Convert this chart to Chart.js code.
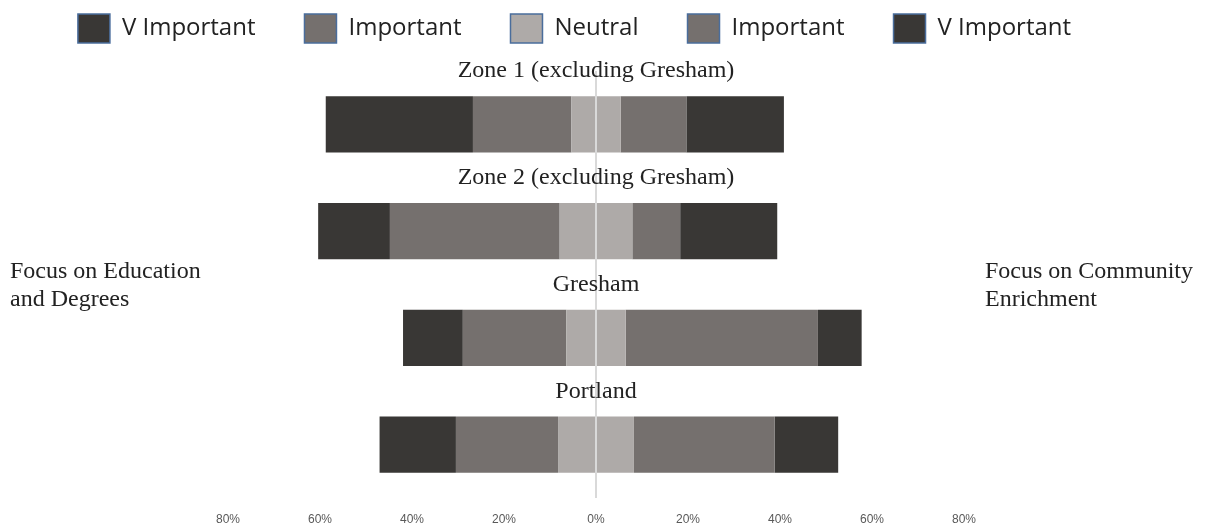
<!DOCTYPE html>
<html>
<head>
<meta charset="utf-8">
<title>Focus: Education vs Community Enrichment</title>
<script src="https://cdn.jsdelivr.net/npm/chart.js@4.4.1/dist/chart.umd.min.js"></script>
<style>
    html, body { margin: 0; padding: 0; background: #fff; }
    #wrap { position: relative; width: 1209px; height: 529px; }
    .side {
        position: absolute;
        top: 256px;
        font-family: 'Liberation Serif', 'Times New Roman', serif;
        font-size: 24px;
        line-height: 28px;
        color: #222;
        white-space: nowrap;
    }
</style>
</head>
<body>
<div id="wrap">
    <canvas id="likertChart"></canvas>
    <div class="side" style="left:10px;">Focus on Education<br>and Degrees</div>
    <div class="side" style="left:985px;">Focus on Community<br>Enrichment</div>
</div>

<script>
const categories = ['Zone 1 (excluding Gresham)', 'Zone 2 (excluding Gresham)', 'Gresham', 'Portland'];

// left side: focus on education and degrees (% of answers)
const eduVeryImportant = [32.0, 15.6, 13.0, 16.6];
const eduImportant = [21.4, 36.9, 22.5, 22.2];
// neutral is split half left / half right of 0
const neutral = [10.7, 15.8, 12.9, 16.5];
// right side: focus on community enrichment
const commImportant = [14.3, 10.4, 41.8, 30.6];
const commVeryImportant = [21.2, 21.1, 9.5, 13.8];

const tickValues = [-80, -60, -40, -20, 0, 20, 40, 60, 80];
const tickLabels = ['80%', '60%', '40%', '20%', '0%', '20%', '40%', '60%', '80%'];

const DARK = '#393735';
const MID = '#75706e';
const LIGHT = '#aeaaa8';

const neg = arr => arr.map(v => -v);
const half = arr => arr.map(v => v / 2);

// legend shows: V Important, Important, Neutral, Important, V Important
const legendOrder = [2, 1, 0, 4, 5];

const categoryTitles = {
    id: 'categoryTitles',
    afterDatasetsDraw(chart) {
        const { ctx, scales: { x, y } } = chart;
        ctx.save();
        ctx.font = '24px "Liberation Serif", "Times New Roman", serif';
        ctx.fillStyle = '#222';
        ctx.textAlign = 'center';
        ctx.textBaseline = 'middle';
        chart.data.labels.forEach((label, i) => {
            ctx.fillText(label, x.getPixelForValue(0), y.getPixelForValue(i - 0.5));
        });
        ctx.restore();
    }
};

// fixed legend height so the plot starts right under it
const legendHeight = {
    id: 'legendHeight',
    beforeInit(chart) {
        const originalFit = chart.legend.fit;
        chart.legend.fit = function fit() {
            originalFit.bind(chart.legend)();
            this.height = 106;
        };
    }
};

const ctx = document.getElementById('likertChart').getContext('2d');
new Chart(ctx, {
    type: 'bar',
    data: {
        labels: categories,
        datasets: [
            { label: 'Neutral', data: neg(half(neutral)), backgroundColor: LIGHT },
            { label: 'Important', data: neg(eduImportant), backgroundColor: MID },
            { label: 'V Important', data: neg(eduVeryImportant), backgroundColor: DARK },
            { label: 'Neutral', data: half(neutral), backgroundColor: LIGHT },
            { label: 'Important', data: commImportant, backgroundColor: MID },
            { label: 'V Important', data: commVeryImportant, backgroundColor: DARK }
        ]
    },
    options: {
        indexAxis: 'y',
        responsive: true,
        maintainAspectRatio: false,
        animation: false,
        datasets: {
            bar: { categoryPercentage: 1, barPercentage: 0.525, borderWidth: 0 }
        },
        layout: { padding: { top: -35, right: 60, left: 0, bottom: 0 } },
        plugins: {
            tooltip: { enabled: false },
            legend: {
                position: 'top',
                labels: {
                    boxWidth: 32,
                    boxHeight: 29,
                    padding: 49,
                    color: '#222',
                    font: { family: "'Open Sans', sans-serif", size: 24 },
                    generateLabels(chart) {
                        return legendOrder.map(i => {
                            const ds = chart.data.datasets[i];
                            return {
                                text: ds.label,
                                fillStyle: ds.backgroundColor,
                                strokeStyle: '#4a6d9c',
                                lineWidth: 1.5,
                                fontColor: '#222',
                                hidden: !chart.isDatasetVisible(i),
                                datasetIndex: i
                            };
                        });
                    }
                }
            }
        },
        scales: {
            x: {
                type: 'linear',
                stacked: true,
                min: -80,
                max: 80,
                z: 1,
                grid: {
                    color: c => (c.tick && c.tick.value === 0 ? '#d9d9d9' : 'rgba(0,0,0,0)'),
                    lineWidth: 2,
                    drawTicks: false
                },
                border: { display: false },
                ticks: {
                    stepSize: 20,
                    padding: 14,
                    color: '#595959',
                    font: { family: "'Liberation Sans Narrow', 'Liberation Sans', sans-serif", size: 12 },
                    callback: v => tickLabels[tickValues.indexOf(v)]
                },
                afterFit: s => { s.height = 31; }
            },
            y: {
                stacked: true,
                position: 'left',
                grid: { display: false },
                border: { display: false },
                ticks: { display: false },
                afterFit: s => { s.width = 228; }
            },
            yRight: {
                type: 'category',
                position: 'right',
                grid: { display: false },
                border: { display: false },
                ticks: { display: false },
                afterFit: s => { s.width = 185; }
            }
        }
    },
    plugins: [categoryTitles, legendHeight]
});
</script>
</body>
</html>
